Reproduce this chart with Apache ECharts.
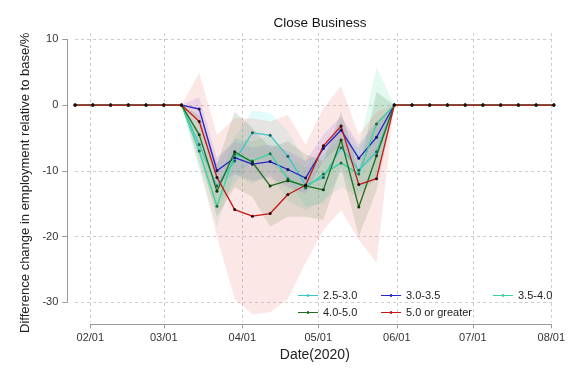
<!DOCTYPE html>
<html>
<head>
<meta charset="utf-8">
<script src="https://cdn.jsdelivr.net/npm/echarts@6/dist/echarts.min.js"></script>
<style>html,body{margin:0;padding:0;background:#fff}#c{width:576px;height:384px}</style>
</head>
<body>
<div id="c"></div>
<script>
const dates = ['2020-01-26','2020-02-02','2020-02-09','2020-02-16','2020-02-23','2020-03-01','2020-03-08',
  '2020-03-15','2020-03-22','2020-03-29','2020-04-05','2020-04-12','2020-04-19','2020-04-26','2020-05-03',
  '2020-05-10','2020-05-17','2020-05-24','2020-05-31','2020-06-07','2020-06-14','2020-06-21','2020-06-28',
  '2020-07-05','2020-07-12','2020-07-19','2020-07-26','2020-08-02'];
const seriesNames = ['2.5-3.0','3.0-3.5','3.5-4.0','4.0-5.0','5.0 or greater'];
// point estimates
const v25 = [0,0,0,0,0,0,0,-6,-12.3,-8.5,-4.2,-4.6,-7.8,-12.2,-11.0,-6.5,-9.9,-7.1,0,0,0,0,0,0,0,0,0,0];
const v30 = [0,0,0,0,0,0,0,-0.6,-10.0,-8.0,-9.0,-8.6,-9.8,-11.1,-6.6,-3.8,-8.1,-4.9,0,0,0,0,0,0,0,0,0,0];
const v35 = [0,0,0,0,0,0,0,-7,-15.4,-7.5,-8.5,-7.4,-11.2,-12.6,-10.5,-8.8,-10.5,-2.9,0,0,0,0,0,0,0,0,0,0];
const v40 = [0,0,0,0,0,0,0,-4.5,-13.1,-7.1,-8.7,-12.3,-11.5,-12.3,-12.9,-5.3,-15.5,-7.7,0,0,0,0,0,0,0,0,0,0];
const v50 = [0,0,0,0,0,0,0,-2.5,-11.0,-15.9,-16.9,-16.5,-13.6,-12.2,-6.2,-3.2,-12.1,-11.2,0,0,0,0,0,0,0,0,0,0];
// confidence bands (lower / upper)
const lo25 = [0,0,0,0,0,0,0,-9,-15.5,-12,-8,-8.5,-11.5,-15.5,-15,-10,-13.5,-11,0,0,0,0,0,0,0,0,0,0];
const hi25 = [0,0,0,0,0,0,0,-3,-9,-5,-0.8,-1.2,-4,-8.5,-7,-2.5,-6.5,-2.5,0,0,0,0,0,0,0,0,0,0];
const lo30 = [0,0,0,0,0,0,0,-2.3,-12,-10.5,-11.5,-11,-12.5,-13.5,-8.5,-6,-10.2,-7.5,0,0,0,0,0,0,0,0,0,0];
const hi30 = [0,0,0,0,0,0,0,1.2,-8,-5.5,-6.5,-6,-7,-8.5,-4.5,-1.7,-6,-2.5,0,0,0,0,0,0,0,0,0,0];
const lo35 = [0,0,0,0,0,0,0,-10,-18.5,-10.5,-12,-10.5,-14.5,-16,-14.5,-12.5,-14,-11,0,0,0,0,0,0,0,0,0,0];
const hi35 = [0,0,0,0,0,0,0,-4,-12.5,-5,-5.5,-4.5,-8,-9.5,-7.5,-5,-6.5,5.7,0,0,0,0,0,0,0,0,0,0];
const lo40 = [0,0,0,0,0,0,0,-7.5,-17,-12.5,-14,-18.5,-17,-17,-17.5,-9.5,-20,-13,0,0,0,0,0,0,0,0,0,0];
const hi40 = [0,0,0,0,0,0,0,-1.5,-9,-1,-3.5,-6.5,-5.5,-7.5,-8.5,-1,-10,2,0,0,0,0,0,0,0,0,0,0];
const lo50 = [0,0,0,0,0,0,0,-9,-20,-29.5,-31.8,-31.5,-29.5,-24,-19,-16,-20.5,-24,0,0,0,0,0,0,0,0,0,0];
const hi50 = [0,0,0,0,0,0,0,4.9,-4.5,-2,-2,-2.5,-1.5,-6,-0.5,2.9,-4.5,-1,0,0,0,0,0,0,0,0,0,0];
const yTicks = [-30,-20,-10,0,10];

const values = [v25, v30, v35, v40, v50];
const lows = [lo25, lo30, lo35, lo40, lo50];
const highs = [hi25, hi30, hi35, hi40, hi50];
const lineColors = ['#38c8c8','#2424c8','#38d49a','#1e6e1e','#c81414'];
const dotColors = ['#1b5f5f','#141460','#1b6a4a','#0f370f','#2a0505'];
const bandColors = ['rgba(64,224,224,0.14)','rgba(120,90,230,0.16)','rgba(60,220,150,0.14)','rgba(40,110,40,0.15)','rgba(240,120,120,0.18)'];

// Layout: axis grid spans 02/01..08/01; data grid spans first..last date at the same scale
const DAY = 864e5;
const axisLeft = 90.3, axisRight = 24.7, gridTop = 39.3, gridBottom = 81.7, W = 576;
const axisMin = Date.parse('2020-02-01T00:00:00'), axisMax = Date.parse('2020-08-01T00:00:00');
const dataMin = Date.parse(dates[0] + 'T00:00:00'), dataMax = Date.parse(dates[dates.length - 1] + 'T00:00:00');
const pxPerMs = (W - axisLeft - axisRight) / (axisMax - axisMin);
const dataLeft = axisLeft - (axisMin - dataMin) * pxPerMs;
const dataRight = axisRight - (dataMax - axisMax) * pxPerMs;

const series = [];
values.forEach((v, k) => {
  series.push({
    type: 'line', name: 'lo' + k, stack: 'band' + k, stackStrategy: 'all',
    xAxisIndex: 1, yAxisIndex: 1,
    data: dates.map((d, i) => [d, lows[k][i]]),
    symbol: 'none', lineStyle: {opacity: 0}, areaStyle: {opacity: 0},
    silent: true, clip: false, legendHoverLink: false, z: 1
  });
  series.push({
    type: 'line', name: 'hi' + k, stack: 'band' + k, stackStrategy: 'all',
    xAxisIndex: 1, yAxisIndex: 1,
    data: dates.map((d, i) => [d, highs[k][i] - lows[k][i]]),
    symbol: 'none', lineStyle: {opacity: 0}, areaStyle: {color: bandColors[k], opacity: 1},
    silent: true, clip: false, z: 1
  });
});
values.forEach((v, k) => {
  series.push({
    type: 'line', name: seriesNames[k],
    xAxisIndex: 1, yAxisIndex: 1,
    data: dates.map((d, i) => [d, v[i]]),
    symbol: 'circle', symbolSize: 3, showSymbol: true,
    lineStyle: {color: lineColors[k], width: 1.3},
    itemStyle: {color: dotColors[k]},
    clip: false, z: 3
  });
});

const fmt = (val) => {
  const d = new Date(val);
  const m = String(d.getMonth() + 1).padStart(2, '0');
  const dd = String(d.getDate()).padStart(2, '0');
  return m + '/' + dd;
};

const lineIcon = 'path://M0,4.4 L20,4.4 L20,5.6 L0,5.6 Z M9.2,3.6 L10.8,3.6 L10.8,6.4 L9.2,6.4 Z';
const legendBase = {
  orient: 'vertical', itemWidth: 20, itemHeight: 8, itemGap: 6,
  textStyle: {fontFamily: 'Liberation Sans', fontSize: 11, color: '#222'},
  selectedMode: false, icon: lineIcon
};
const legendItem = (name) => ({name: name, itemStyle: {color: lineColors[seriesNames.indexOf(name)]}});
const gridLine = {show: true, lineStyle: {color: '#ccc', type: [3, 3], width: 1}};
const timeTicks = {type: 'time', min: axisMin, max: axisMax, minInterval: 28 * DAY, maxInterval: 31 * DAY, splitNumber: 6};

const chart = echarts.init(document.getElementById('c'), null, {renderer: 'canvas'});
chart.setOption({
  animation: false,
  backgroundColor: '#fff',
  title: {
    text: 'Close Business', left: 315, top: 11, textAlign: 'center',
    textStyle: {fontFamily: 'Liberation Sans', fontSize: 13.5, fontWeight: 'normal', color: '#111'}
  },
  legend: [
    Object.assign({}, legendBase, {left: 293, top: 285, data: ['2.5-3.0','4.0-5.0'].map(legendItem)}),
    Object.assign({}, legendBase, {left: 376, top: 285, data: ['3.0-3.5','5.0 or greater'].map(legendItem)}),
    Object.assign({}, legendBase, {left: 488, top: 285, data: ['3.5-4.0'].map(legendItem)})
  ],
  grid: [
    {left: axisLeft, right: axisRight, top: gridTop, bottom: gridBottom},
    {left: dataLeft, right: dataRight, top: gridTop, bottom: gridBottom},
    {left: axisLeft, right: axisRight, top: 33, bottom: 62}
  ],
  xAxis: [Object.assign({}, timeTicks, {
    gridIndex: 0, offset: 22,
    name: 'Date(2020)', nameLocation: 'middle', nameGap: 23,
    nameTextStyle: {fontFamily: 'Liberation Sans', fontSize: 14, color: '#222', padding: [0, 12, 0, 0]},
    axisLine: {show: true, onZero: false, lineStyle: {color: '#999', width: 1}},
    axisTick: {show: true, length: 4, lineStyle: {color: '#999'}},
    axisLabel: {formatter: fmt, fontFamily: 'Liberation Sans', fontSize: 11, color: '#333', margin: 8,
      hideOverlap: false, showMinLabel: true, showMaxLabel: true},
    splitLine: {show: false},
    minorTick: {show: false}
  }), {
    gridIndex: 1,
    type: 'time', min: dataMin, max: dataMax, show: false
  }, Object.assign({}, timeTicks, {
    gridIndex: 2,
    axisLine: {show: false}, axisTick: {show: false}, axisLabel: {show: false},
    splitLine: gridLine
  })],
  yAxis: [{
    gridIndex: 0,
    type: 'value', min: yTicks[0], max: yTicks[yTicks.length - 1], interval: 10, offset: 23,
    name: 'Difference change in employment relative to base/%', nameLocation: 'middle', nameGap: 24,
    nameTextStyle: {fontFamily: 'Liberation Sans', fontSize: 13, color: '#222', padding: [0, 24, 0, 0]},
    axisLine: {show: true, lineStyle: {color: '#999', width: 1}},
    axisTick: {show: true, length: 5, lineStyle: {color: '#999'}},
    axisLabel: {fontFamily: 'Liberation Sans', fontSize: 11, color: '#333', margin: 9},
    splitLine: {show: false}
  }, {
    gridIndex: 1,
    type: 'value', min: yTicks[0], max: yTicks[yTicks.length - 1], interval: 10,
    axisLine: {show: false}, axisTick: {show: false}, axisLabel: {show: false},
    splitLine: gridLine
  }, {
    gridIndex: 2,
    type: 'value', min: 0, max: 1, show: false
  }],
  series: series
});
</script>
</body>
</html>
